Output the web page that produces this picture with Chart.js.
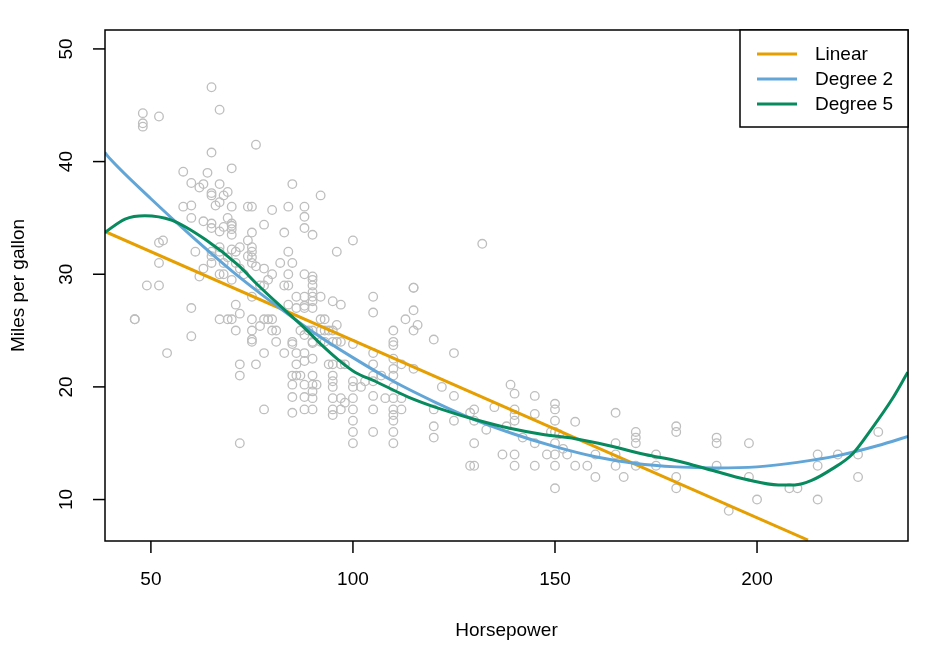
<!DOCTYPE html>
<html>
<head>
<meta charset="utf-8">
<script src="https://cdn.jsdelivr.net/npm/chart.js@4.4.1/dist/chart.umd.min.js"></script>
<style>
  html, body { margin: 0; padding: 0; background: #fff; }
  #wrap { width: 928px; height: 651px; }
</style>
</head>
<body>
<div id="wrap"><canvas id="autoChart" width="928" height="651"></canvas></div>
<script>
const hp = [
  65,67,48,48,48,52,76,65,58,64,70,60,62,63,67,85,65,65,68,69,92,67,66,
  58,60,70,74,75,80,84,88,60,69,88,63,65,65,67,68,70,70,70,70,75,78,83,88,90,
  100,74,52,53,96,61,65,65,67,67,70,71,72,75,75,75,75,74,84,52,76,78,80,82,85,84,
  63,62,65,67,68,90,88,68,69,71,72,73,70,77,78,79,49,52,83,84,90,90,115,
  46,46,60,60,54,71,72,67,69,70,75,75,75,75,75,71,77,78,79,80,80,81,81,
  72,72,76,72,78,78,83,85,86,86,88,88,90,85,86,87,90,85,85,85,88,88,88,
  90,90,90,90,91,86,88,90,90,92,86,88,90,84,88,90,87,88,90,90,90,89,85,
  92,93,92,93,94,95,96,95,97,92,93,95,96,97,100,94,95,97,98,
  95,95,95,95,95,95,97,97,98,100,100,100,100,100,100,100,102,103,
  105,105,105,105,105,105,105,105,105,
  132,115,115,113,116,115,110,110,110,110,110,110,110,110,110,110,110,110,110,
  120,125,115,112,107,108,112,112,122,125,120,120,120,125,
  129,130,130,130,133,129,130,135,137,138,139,140,140,140,140,140,140,
  145,145,145,145,142,148,150,150,150,150,150,150,150,150,149,151,152,153,
  155,155,158,160,160,165,165,165,165,167,170,170,170,170,
  175,175,180,180,180,180,190,190,190,193,198,198,200,208,210,215,215,215,220,225,225,230
];
const mpg = [
  46.6,44.6,44.3,43.4,43.1,44.0,41.5,40.8,39.1,39.0,39.4,38.1,37.7,38.0,38.0,38.0,37.2,37.0,37.0,37.3,37.0,36.4,36.1,
  36.0,36.1,36.0,36.0,36.0,35.7,36.0,36.0,35.0,35.0,35.1,34.7,34.5,34.1,33.8,34.2,34.5,34.3,34.0,33.5,33.7,34.4,33.7,34.1,33.5,
  33.0,33.0,32.8,33.0,32.0,32.0,32.0,31.6,32.4,32.0,32.2,32.0,32.4,32.4,32.0,31.5,31.0,31.6,32.0,31.0,30.7,30.5,30.0,31.0,31.0,30.0,
  30.5,29.8,31.0,30.0,30.0,29.8,30.0,31.0,31.5,31.0,30.5,30.0,29.5,29.0,29.0,29.5,29.0,29.0,29.0,29.0,29.0,29.5,28.8,
  26.0,26.0,27.0,24.5,23.0,27.3,26.5,26.0,26.0,26.0,28.0,26.0,25.0,24.0,24.2,25.0,25.4,26.0,26.0,26.0,25.0,25.0,24.0,
  22.0,21.0,22.0,15.0,18.0,23.0,23.0,23.8,23.0,22.0,23.0,22.3,22.5,21.0,21.0,21.0,21.0,20.2,19.1,17.7,20.2,19.1,18.0,
  20.2,19.6,19.0,18.0,20.2,28.0,28.0,28.4,28.0,28.0,27.0,27.0,27.0,27.3,27.2,27.6,25.0,24.6,24.0,23.9,25.0,25.0,24.0,
  26.0,26.0,25.0,25.0,25.0,25.0,25.5,27.6,27.3,24.0,24.0,24.0,24.0,24.0,23.8,22.0,22.0,22.0,22.0,
  21.0,20.5,20.0,19.0,18.0,17.5,19.0,18.0,18.6,20.5,20.0,19.0,18.0,17.0,16.0,15.0,20.0,20.5,
  28.0,26.6,23.0,22.0,21.0,20.5,19.2,18.0,16.0,
  32.7,28.8,26.8,26.0,25.5,25.0,25.0,24.0,23.7,22.5,21.6,21.0,20.0,19.0,18.0,17.5,17.0,16.0,15.0,
  24.2,23.0,21.6,22.0,21.0,19.0,19.0,18.0,20.0,19.2,18.0,16.5,15.5,17.0,
  17.7,18.0,17.0,15.0,16.2,13.0,13.0,18.2,14.0,16.5,20.2,19.4,18.0,17.5,17.0,14.0,13.0,
  19.2,17.6,15.0,13.0,15.5,14.0,18.5,18.0,17.0,16.0,15.0,14.0,13.0,11.0,16.0,15.8,14.5,14.0,
  16.9,13.0,13.0,14.0,12.0,17.7,15.0,14.0,13.0,12.0,16.0,15.5,15.0,13.0,
  14.0,13.0,16.5,16.0,12.0,11.0,15.5,15.0,13.0,9.0,15.0,12.0,10.0,11.0,11.0,14.0,13.0,10.0,14.0,14.0,12.0,16.0
];

// fitted curves
const linearHp  = [38.6, 212.6];
const linearMpg = [33.8, 6.4];
const quadHp  = [38.6, 40, 50, 60, 70, 80, 90, 100, 110, 120, 130, 140, 150, 160, 170, 180, 190, 200, 210, 220, 230, 237.4];
const quadMpg = [40.8, 40.2, 36.7, 33.4, 30.3, 27.5, 24.9, 22.6, 20.5, 18.7, 17.1, 15.8, 14.7, 13.8, 13.2, 12.9, 12.8, 12.9, 13.3, 13.9, 14.8, 15.6];
const poly5Hp  = [38.6, 43.6, 48.5, 55.1, 63.4, 71.6, 76.6, 83.2, 88.1, 92.3, 96.4, 100.5, 105.5, 113.7, 122, 130.2, 138.5, 146.7, 155, 163.2, 172.3, 180.6, 188.8, 197.1, 205.3, 209.4, 213.5, 218.5, 223.5, 228.4, 233.4, 237.3];
const poly5Mpg = [33.7, 34.9, 35.2, 34.8, 33.1, 30.8, 29.0, 26.8, 25.2, 23.7, 22.4, 21.3, 20.5, 19.1, 18.0, 17.1, 16.35, 15.8, 15.4, 14.8, 14.0, 13.4, 12.6, 11.8, 11.3, 11.3, 11.7, 12.7, 14.0, 16.3, 18.9, 21.3];

const xTicks = [50, 100, 150, 200];
const yTicks = [10, 20, 30, 40, 50];
const seriesNames = ['Linear', 'Degree 2', 'Degree 5'];
const seriesColors = ['#E69F00', '#62A6D8', '#078A5E'];

const FONT = '19px "Liberation Sans", Arial, Helvetica, sans-serif';
const toXY = (xs, ys) => xs.map((x, i) => ({ x: x, y: ys[i] }));

// R-style box, ticks, labels and legend
const rFrame = {
    id: 'rFrame',
    afterDraw(chart) {
        const ctx = chart.ctx;
        const a = chart.chartArea;
        const xs = chart.scales.x, ys = chart.scales.y;
        ctx.save();
        ctx.strokeStyle = '#000';
        ctx.fillStyle = '#000';
        ctx.lineWidth = 1.5;
        ctx.strokeRect(a.left, a.top, a.right - a.left, a.bottom - a.top);

        ctx.font = FONT;
        ctx.textAlign = 'center';
        ctx.textBaseline = 'middle';
        xs.ticks.forEach(t => {
            const px = xs.getPixelForValue(t.value);
            ctx.beginPath();
            ctx.moveTo(px, a.bottom);
            ctx.lineTo(px, a.bottom + 12);
            ctx.stroke();
            ctx.fillText(String(t.value), px, a.bottom + 39);
        });
        ys.ticks.forEach(t => {
            const py = ys.getPixelForValue(t.value);
            ctx.beginPath();
            ctx.moveTo(a.left - 12, py);
            ctx.lineTo(a.left, py);
            ctx.stroke();
            ctx.save();
            ctx.translate(a.left - 38, py);
            ctx.rotate(-Math.PI / 2);
            ctx.fillText(String(t.value), 0, 0);
            ctx.restore();
        });

        // axis titles
        ctx.textBaseline = 'alphabetic';
        ctx.fillText('Horsepower', (a.left + a.right) / 2, 636);
        ctx.save();
        ctx.translate(24, (a.top + a.bottom) / 2);
        ctx.rotate(-Math.PI / 2);
        ctx.fillText('Miles per gallon', 0, 0);
        ctx.restore();

        // legend, top right
        const lw = 168, lh = 97;
        const lx = a.right - lw, ly = a.top;
        ctx.fillStyle = '#fff';
        ctx.fillRect(lx, ly, lw, lh);
        ctx.strokeRect(lx, ly, lw, lh);
        ctx.textAlign = 'left';
        ctx.textBaseline = 'middle';
        seriesNames.forEach((name, i) => {
            const yy = ly + 24 + i * 25;
            ctx.strokeStyle = seriesColors[i];
            ctx.lineWidth = 3;
            ctx.beginPath();
            ctx.moveTo(lx + 17, yy);
            ctx.lineTo(lx + 57, yy);
            ctx.stroke();
            ctx.fillStyle = '#000';
            ctx.fillText(name, lx + 75, yy + 1);
        });
        ctx.restore();
    }
};

const curve = (data, color, order) => ({
    type: 'line',
    data: data,
    borderColor: color,
    borderWidth: 3,
    pointRadius: 0,
    fill: false,
    cubicInterpolationMode: 'monotone',
    order: order
});

new Chart(document.getElementById('autoChart').getContext('2d'), {
    type: 'scatter',
    data: {
        datasets: [
            {
                label: 'Auto',
                data: toXY(hp, mpg),
                pointRadius: 4.3,
                pointBorderWidth: 1.3,
                borderColor: '#BEBEBE',
                backgroundColor: 'rgba(0,0,0,0)',
                order: 4
            },
            curve(toXY(linearHp, linearMpg), seriesColors[0], 3),
            curve(toXY(quadHp, quadMpg), seriesColors[1], 2),
            curve(toXY(poly5Hp, poly5Mpg), seriesColors[2], 1)
        ]
    },
    options: {
        responsive: false,
        animation: false,
        layout: { padding: { left: 105, top: 30, right: 20, bottom: 110 } },
        plugins: {
            legend: { display: false },
            tooltip: { enabled: false }
        },
        scales: {
            x: {
                type: 'linear',
                display: false,
                min: 38.64,
                max: 237.36,
                afterBuildTicks: s => { s.ticks = xTicks.map(v => ({ value: v })); }
            },
            y: {
                type: 'linear',
                display: false,
                min: 6.32,
                max: 51.68,
                afterBuildTicks: s => { s.ticks = yTicks.map(v => ({ value: v })); }
            }
        }
    },
    plugins: [rFrame]
});
</script>
</body>
</html>
